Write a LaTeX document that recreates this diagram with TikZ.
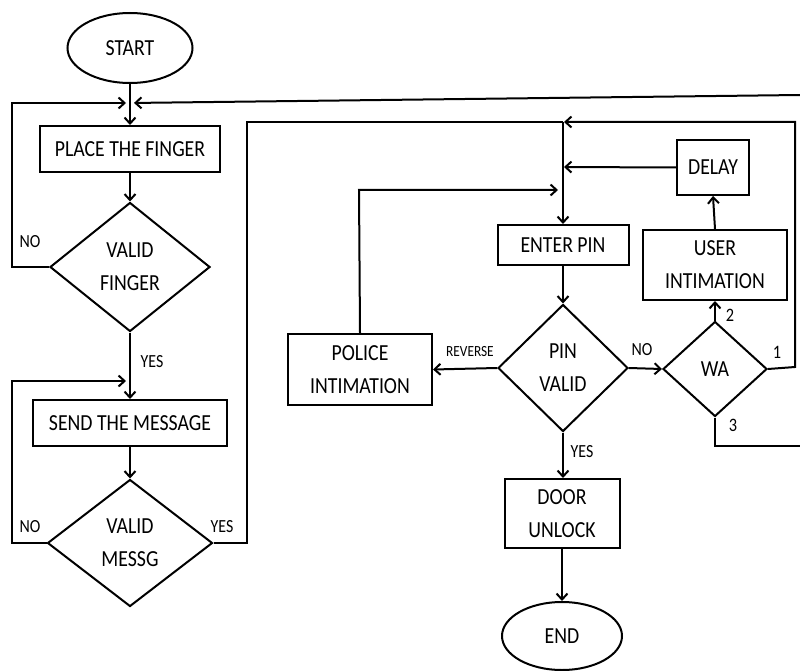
\documentclass[tikz,border=0pt]{standalone}
\usepackage{fontspec}
\setmainfont{Carlito}[FakeStretch=0.86]
\usetikzlibrary{arrows.meta,shapes.geometric}
\begin{document}
\begin{tikzpicture}[x=1pt,y=-1pt,
 every node/.style={font=\fontsize{23}{33}\selectfont, align=center, inner sep=0pt},
 box/.style={draw, line width=2pt, rectangle},
 term/.style={draw, line width=2pt, ellipse},
 dec/.style={draw, line width=2pt, diamond},
 lbl/.style={font=\fontsize{18.5}{20}\selectfont},
 conn/.style={line width=2pt},
 arr/.style={conn, -{Straight Barb[length=6pt,width=11pt]}},
]
\useasboundingbox (0,0) rectangle (800,671);
% nodes
\node[term, minimum width=125pt, minimum height=70pt] (start) at (130,48) {START};
\node[box, minimum width=180pt, minimum height=46pt] (pf) at (130,149) {PLACE THE FINGER};
\node[dec, minimum width=160pt, minimum height=129pt] (vf) at (130,267) {VALID\\FINGER};
\node[box, minimum width=194pt, minimum height=46pt] (sm) at (130,423) {SEND THE MESSAGE};
\node[dec, minimum width=165pt, minimum height=127pt] (vm) at (130,543) {VALID\\MESSG};
\node[box, minimum width=131pt, minimum height=40pt] (ep) at (563,245) {ENTER PIN};
\node[dec, minimum width=130pt, minimum height=127pt] (pv) at (563,368) {PIN\\VALID};
\node[box, minimum width=144pt, minimum height=71pt] (pi) at (360,369.5) {POLICE\\INTIMATION};
\node[box, minimum width=72pt, minimum height=55pt] (dl) at (713,167.5) {DELAY};
\node[box, minimum width=144pt, minimum height=70pt] (ui) at (715,265) {USER\\INTIMATION};
\node[dec, minimum width=104pt, minimum height=95pt] (wa) at (715,369) {WA};
\node[box, minimum width=115pt, minimum height=69pt] (du) at (562,513.5) {DOOR\\UNLOCK};
\node[term, minimum width=120pt, minimum height=68pt] (end) at (562,636) {END};
% junction coordinates
\coordinate (j1) at (130,103);
\coordinate (j2) at (130,381);
\coordinate (j3) at (563,122);
\coordinate (j4) at (563,167);
\coordinate (j5) at (563,190);
\coordinate (topR) at (800,95);
\coordinate (botR) at (800,446);
% connectors
\draw[arr] (start.south) -- (pf.north);
\draw[arr, shorten >=4pt] (vf.west) -- (12,267) -- (12,103) -- (j1);
\draw[arr, shorten >=4pt] (topR) -- (j1);
\draw[arr] (pf.south) -- (vf.north);
\draw[arr] (vf.south) -- (sm.north);
\draw[arr, shorten >=4pt] (vm.west) -- (12,543) -- (12,381) -- (j2);
\draw[arr] (sm.south) -- (vm.north);
\draw[conn] (vm.east) -- (247,543) -- (247,122) -- (j3);
\draw[arr, shorten >=1pt] (wa.east) -- (795,367) -- (795,122) -- (j3);
\draw[arr] (j3) -- (ep.north);
\draw[arr, shorten >=1pt] (dl.west) -- (j4);
\draw[arr, shorten >=5pt] (pi.north) -- (359,190) -- (j5);
\draw[arr] (ep.south) -- (pv.north);
\draw[arr] (pv.west) -- (pi.east);
\draw[arr] (pv.east) -- (wa.west);
\draw[arr] (pv.south) -- (pv.south |- du.north);
\draw[arr] (du.south) -- (end.north);
\draw[arr] (wa.north) -- (ui.south);
\draw[arr] (ui.north) -- (dl.south);
\draw[conn] (wa.south) -- (715,446) -- (botR);
% labels
\node[lbl] (l1) at (30,242) {NO};
\node[lbl] (l2) at (152,362) {YES};
\node[lbl] (l3) at (30,527) {NO};
\node[lbl] (l4) at (222,527) {YES};
\node[lbl, font=\fontsize{15.5}{17}\selectfont] (l5) at (470,352) {REVERSE};
\node[lbl] (l6) at (642,350) {NO};
\node[lbl] (l7) at (582,452) {YES};
\node[lbl, font=\fontsize{19}{20}\selectfont] (l8) at (730,315) {2};
\node[lbl, font=\fontsize{19}{20}\selectfont] (l9) at (777,352) {1};
\node[lbl, font=\fontsize{19}{20}\selectfont] (l10) at (733,425) {3};
\end{tikzpicture}
\end{document}
